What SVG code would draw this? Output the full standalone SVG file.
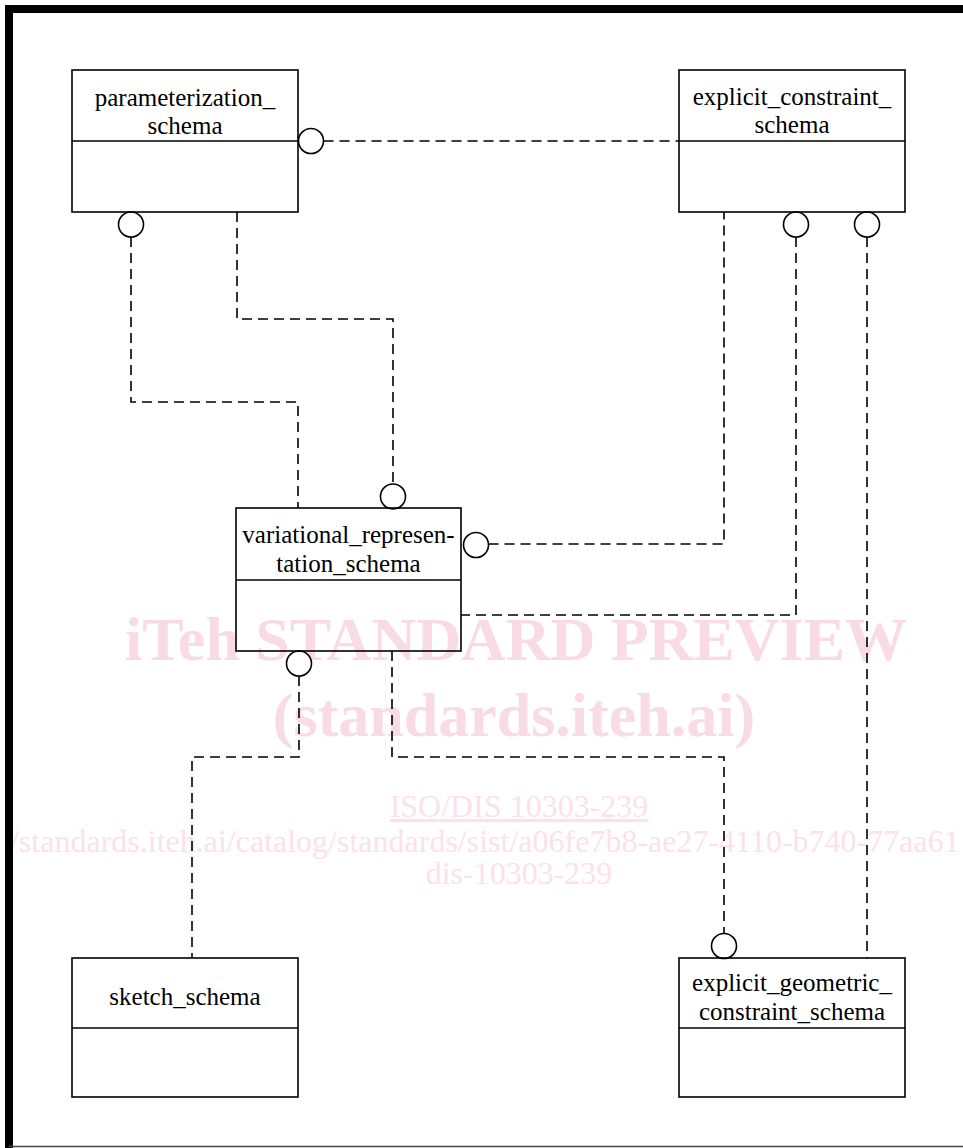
<svg xmlns="http://www.w3.org/2000/svg" width="963" height="1148" viewBox="0 0 963 1148">
<style>
.box{fill:none;stroke:#000;stroke-width:1.6}
.lbl{font-family:"Liberation Serif","Times New Roman",Times,serif;font-size:25px;fill:#000;text-anchor:middle}
.dash{fill:none;stroke:#000;stroke-width:1.6;stroke-dasharray:10 6}
.ball{fill:#fff;stroke:#000;stroke-width:1.6}
.wm1{font-family:"Liberation Serif","Times New Roman",Times,serif;font-weight:bold;font-size:62px;fill:#f8dbe4;text-anchor:middle}
.wm2{font-family:"Liberation Serif","Times New Roman",Times,serif;font-size:32px;fill:#fbe2ea}
</style>
<rect width="963" height="1148" fill="#fff"/>
<g id="watermark">
<text class="wm1" x="516" y="660">iTeh STANDARD PREVIEW</text>
<text class="wm1" x="514" y="736">(standards.iteh.ai)</text>
<text class="wm2" x="519" y="817" text-anchor="middle" text-decoration="underline">ISO/DIS 10303-239</text>
<text class="wm2" x="10" y="852">/standards.iteh.ai/catalog/standards/sist/a06fe7b8-ae27-4110-b740-77aa61</text>
<text class="wm2" x="519" y="884" text-anchor="middle">dis-10303-239</text>
</g>
<g id="frame">
<path d="M9,1148 V9 H963" fill="none" stroke="#000" stroke-width="8"/>
<line x1="9" y1="1146.5" x2="963" y2="1146.5" stroke="#444" stroke-width="1.6"/>
</g>
<g id="connectors">
<path class="dash" d="M323.5,141 H679"/>
<path class="dash" d="M131,237 V402 H298 V508"/>
<path class="dash" d="M237,212 V319 H393 V484"/>
<path class="dash" d="M488.5,544 H724 V212"/>
<path class="dash" d="M796,237 V615 H461"/>
<path class="dash" d="M867,237 V958"/>
<path class="dash" d="M299,676 V757 H192 V958"/>
<path class="dash" d="M392,651 V757 H724 V933.5"/>
<circle class="ball" cx="311" cy="141" r="12.5"/>
<circle class="ball" cx="131" cy="224.5" r="12.5"/>
<circle class="ball" cx="393" cy="496.5" r="12.5"/>
<circle class="ball" cx="476" cy="545" r="12.5"/>
<circle class="ball" cx="796" cy="224.5" r="12.5"/>
<circle class="ball" cx="867" cy="224.5" r="12.5"/>
<circle class="ball" cx="299" cy="663.5" r="12.5"/>
<circle class="ball" cx="724" cy="946" r="12.5"/>
</g>
<g id="parameterization_schema">
<rect class="box" x="72" y="70" width="226" height="142"/>
<line class="box" x1="72" y1="141" x2="298" y2="141"/>
<text class="lbl" x="185" y="106">parameterization_</text>
<text class="lbl" x="185" y="134">schema</text>
</g>
<g id="explicit_constraint_schema">
<rect class="box" x="679" y="70" width="226" height="142"/>
<line class="box" x1="679" y1="141" x2="905" y2="141"/>
<text class="lbl" x="792" y="105">explicit_constraint_</text>
<text class="lbl" x="792" y="133">schema</text>
</g>
<g id="variational_representation_schema">
<rect class="box" x="236" y="508" width="225" height="143"/>
<line class="box" x1="236" y1="580" x2="461" y2="580"/>
<text class="lbl" x="348.5" y="543">variational_represen-</text>
<text class="lbl" x="348.5" y="572">tation_schema</text>
</g>
<g id="sketch_schema">
<rect class="box" x="72" y="958" width="226" height="139"/>
<line class="box" x1="72" y1="1028" x2="298" y2="1028"/>
<text class="lbl" x="185" y="1005">sketch_schema</text>
</g>
<g id="explicit_geometric_constraint_schema">
<rect class="box" x="679" y="958" width="226" height="139"/>
<line class="box" x1="679" y1="1028" x2="905" y2="1028"/>
<text class="lbl" x="792" y="991">explicit_geometric_</text>
<text class="lbl" x="792" y="1020">constraint_schema</text>
</g>
</svg>
